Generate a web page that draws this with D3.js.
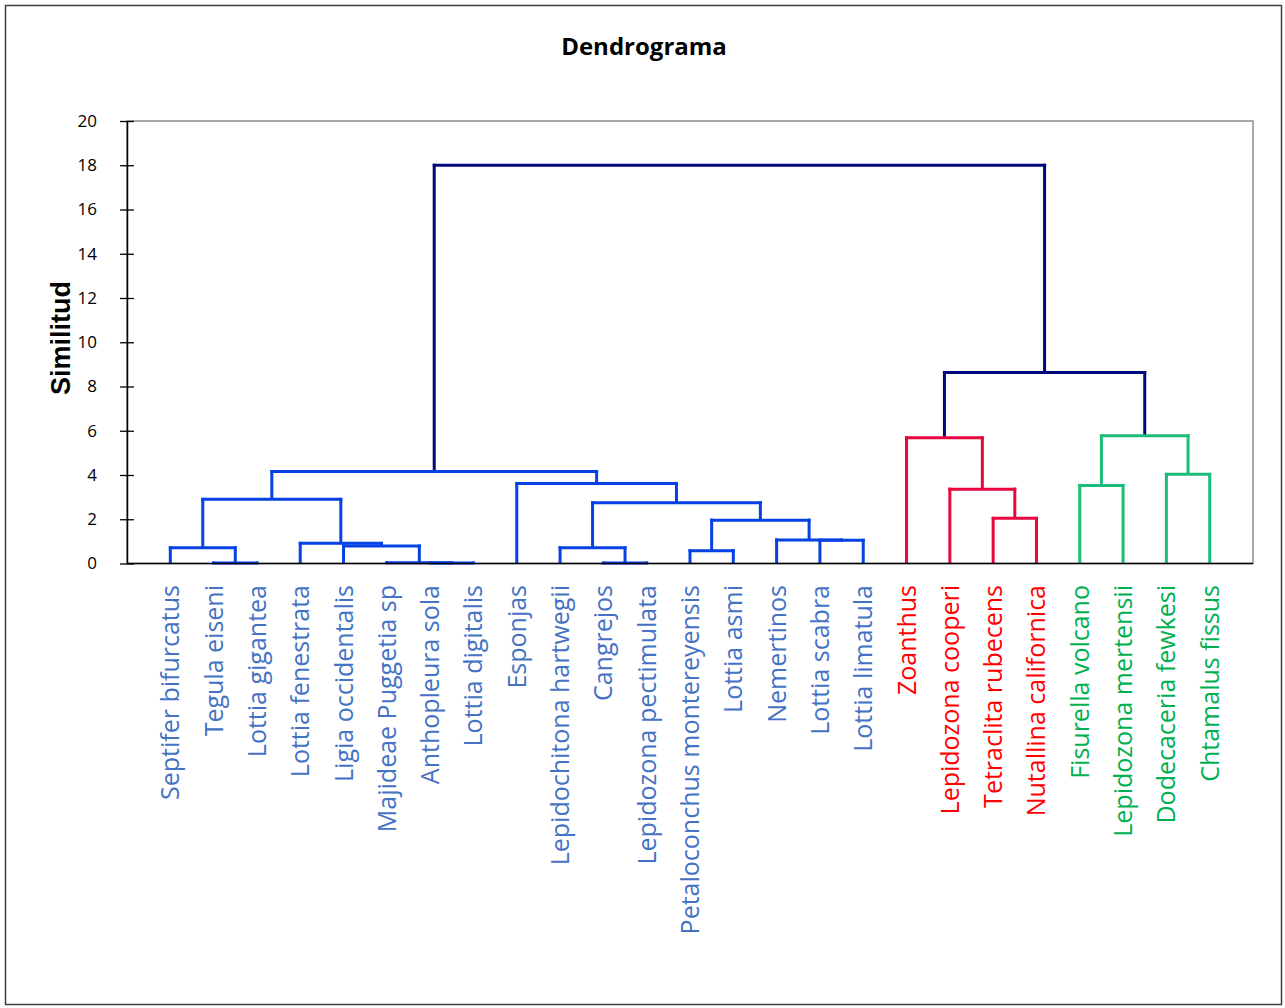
<!DOCTYPE html>
<html>
<head>
<meta charset="utf-8">
<script src="https://cdn.jsdelivr.net/npm/d3@7"></script>
<style>
  body { margin: 0; background: #fff; }
  svg text { font-family: "Open Sans", "Noto Sans", sans-serif; }
</style>
</head>
<body>
<div id="chart"></div>
<script>
// leaves, in the order they appear along the axis
var leaves = [
    "Septifer bifurcatus", "Tegula eiseni", "Lottia gigantea", "Lottia fenestrata",
    "Ligia occidentalis", "Majideae Puggetia sp", "Anthopleura sola", "Lottia digitalis",
    "Esponjas", "Lepidochitona hartwegii", "Cangrejos", "Lepidozona pectimulata",
    "Petaloconchus montereyensis", "Lottia asmi", "Nemertinos", "Lottia scabra",
    "Lottia limatula", "Zoanthus", "Lepidozona cooperi", "Tetraclita rubecens",
    "Nutallina californica", "Fisurella volcano", "Lepidozona mertensii",
    "Dodecaceria fewkesi", "Chtamalus fissus"
];
// group of every leaf (label colour)
var leafGroup = [
    "a", "a", "a", "a", "a", "a", "a", "a", "a", "a", "a", "a", "a", "a", "a", "a", "a",
    "r", "r", "r", "r", "v", "v", "v", "v"
];
// merges: [left, right, height, group]; numbers are leaf indices, "mK" is merge K
var merges = [
    [1, 2, 0.02, "a"],          // m0
    [0, "m0", 0.71, "a"],       // m1
    [6, 7, 0.02, "a"],          // m2
    [5, "m2", 0.03, "a"],       // m3
    [4, "m3", 0.79, "a"],       // m4
    [3, "m4", 0.91, "a"],       // m5
    ["m1", "m5", 2.90, "a"],    // m6
    [10, 11, 0.02, "a"],        // m7
    [9, "m7", 0.71, "a"],       // m8
    [12, 13, 0.58, "a"],        // m9
    [15, 16, 1.05, "a"],        // m10
    [14, "m10", 1.06, "a"],     // m11
    ["m9", "m11", 1.96, "a"],   // m12
    ["m8", "m12", 2.75, "a"],   // m13
    [8, "m13", 3.62, "a"],      // m14
    ["m6", "m14", 4.16, "a"],   // m15
    [19, 20, 2.04, "r"],        // m16
    [18, "m16", 3.36, "r"],     // m17
    [17, "m17", 5.68, "r"],     // m18
    [21, 22, 3.53, "v"],        // m19
    [23, 24, 4.03, "v"],        // m20
    ["m19", "m20", 5.77, "v"],  // m21
    ["m18", "m21", 8.63, "n"],  // m22
    ["m15", "m22", 18.0, "n"]   // m23
];
var yTicks = [0, 2, 4, 6, 8, 10, 12, 14, 16, 18, 20];

var width = 1285,
    height = 1008,
    plot = { left: 127, top: 121, right: 1253, bottom: 563.5 },
    lineColours = { a: "#0541e3", r: "#e8063f", v: "#1bbd78", n: "#00087e" },
    labelColours = { a: "#4472c4", r: "#ff0000", v: "#00b050" };

var x = d3.scaleLinear().domain([0, leaves.length + 1]).range([plot.left, plot.right]),
    y = d3.scaleLinear().domain([0, 20]).range([plot.bottom, plot.top]);

var svg = d3.select("#chart").append("svg")
    .attr("width", width)
    .attr("height", height);

// outer frame
svg.append("rect")
    .attr("x", 5.5).attr("y", 5.5)
    .attr("width", 1276).attr("height", 999)
    .style("fill", "none").style("stroke", "#404040").style("stroke-width", 1.5);

// plot area border
svg.append("rect")
    .attr("x", plot.left).attr("y", plot.top)
    .attr("width", plot.right - plot.left).attr("height", plot.bottom - plot.top)
    .style("fill", "none").style("stroke", "#8c8c8c").style("stroke-width", 1.5);

// node positions: leaf -> its slot, merge -> middle of its two children
var nodes = {};
leaves.forEach(function (name, i) {
    nodes[i] = { x: i + 1, h: 0 };
});
merges.forEach(function (m, k) {
    var a = nodes[m[0]], b = nodes[m[1]];
    nodes["m" + k] = { x: (a.x + b.x) / 2, h: m[2], a: a, b: b, g: m[3] };
});

var links = [];
merges.forEach(function (m, k) {
    var p = nodes["m" + k];
    [p.a, p.b].forEach(function (c) {
        links.push({ x: c.x, h0: c.h, h1: p.h, g: p.g });
    });
    links.push({ x0: p.a.x, x1: p.b.x, h: p.h, g: p.g, flat: true });
});

var tree = svg.append("g");

// vertical segments
tree.selectAll("line.v")
    .data(links.filter(function (d) { return !d.flat; }))
    .enter().append("line")
    .attr("class", "v")
    .attr("x1", function (d) { return x(d.x); })
    .attr("x2", function (d) { return x(d.x); })
    .attr("y1", function (d) { return y(d.h0); })
    .attr("y2", function (d) { return y(d.h1) - 1.5; })
    .style("stroke", function (d) { return lineColours[d.g]; })
    .style("stroke-width", 3);

// horizontal segments
tree.selectAll("line.h")
    .data(links.filter(function (d) { return d.flat; }))
    .enter().append("line")
    .attr("class", "h")
    .attr("x1", function (d) { return x(d.x0) - 1.5; })
    .attr("x2", function (d) { return x(d.x1) + 1.5; })
    .attr("y1", function (d) { return y(d.h); })
    .attr("y2", function (d) { return y(d.h); })
    .style("stroke", function (d) { return lineColours[d.g]; })
    .style("stroke-width", 3);

// y axis
var yAxis = d3.axisLeft(y).tickValues(yTicks).tickSizeInner(7).tickSizeOuter(0).tickPadding(23);
var gy = svg.append("g")
    .attr("transform", "translate(" + plot.left + ",0)")
    .call(yAxis);
gy.select(".domain").style("stroke", "#000").style("stroke-width", 1.5);
gy.selectAll(".tick line").attr("x1", 7).attr("x2", -7).style("stroke", "#000").style("stroke-width", 1.3);
gy.selectAll(".tick text")
    .style("font-family", "'Open Sans', sans-serif")
    .style("font-size", "17px")
    .style("fill", "#000");

// x axis base line
svg.append("line")
    .attr("x1", plot.left).attr("x2", plot.right)
    .attr("y1", plot.bottom).attr("y2", plot.bottom)
    .style("stroke", "#000").style("stroke-width", 1.5);

// leaf labels
svg.selectAll("text.leaf")
    .data(leaves)
    .enter().append("text")
    .attr("class", "leaf")
    .attr("transform", function (d, i) { return "translate(" + x(i + 1) + ",585) rotate(-90)"; })
    .attr("text-anchor", "end")
    .attr("dy", "0.36em")
    .style("font-size", "25px")
    .style("fill", function (d, i) { return labelColours[leafGroup[i]]; })
    .text(function (d) { return d; });

// title
svg.append("text")
    .attr("x", 644).attr("y", 55)
    .attr("text-anchor", "middle")
    .style("font-size", "24px")
    .style("font-weight", "bold")
    .text("Dendrograma");

// y axis title
svg.append("text")
    .attr("transform", "translate(70,338) rotate(-90)")
    .attr("text-anchor", "middle")
    .style("font-family", "'Liberation Sans', Arial, sans-serif")
    .style("font-size", "27px")
    .style("font-weight", "bold")
    .text("Similitud");
</script>
</body>
</html>
